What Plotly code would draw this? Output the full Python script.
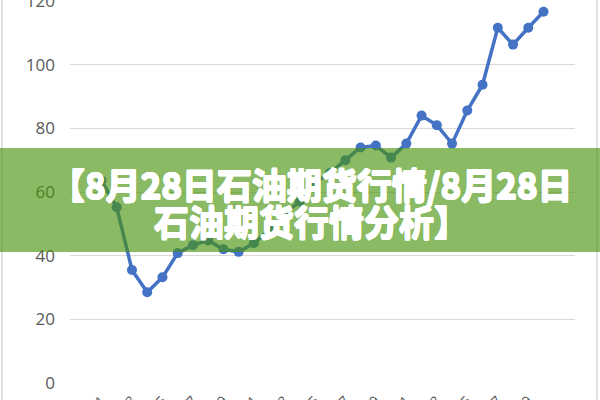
import plotly.graph_objects as go

# categories (x labels are mostly cut off in the picture)
dates = ["1/%d" % d for d in range(1, 31)]
prices = [63.6, 55.2, 35.5, 28.5, 33.2, 40.8, 43.3, 44.8, 42.0, 41.2,
          43.9, 48.0, 53.0, 57.0, 63.0, 66.0, 70.0, 74.0, 74.6, 70.8,
          75.2, 84.0, 81.0, 75.2, 85.6, 93.7, 111.6, 106.3, 111.6, 116.6]
y_ticks = [0, 20, 40, 60, 80, 100, 120]

title_line1 = "【8月28日石油期货行情/8月28日"
title_line2 = "石油期货行情分析】"

fig = go.Figure()
fig.add_trace(go.Scatter(
    x=dates, y=prices, mode="lines+markers",
    line=dict(color="#4472C4", width=3.5),
    marker=dict(color="#4472C4", size=10),
    cliponaxis=False,
))

# plot area spans px 70..575 horizontally, 1..383 vertically
def px_x(p):
    return (p - 70) / 505.0

def px_y(p):
    return (383 - p) / 382.0

# light grey frame of the original image
for xp in (2, 597):
    fig.add_shape(type="line", xref="paper", yref="paper",
                  x0=px_x(xp), x1=px_x(xp), y0=px_y(-5), y1=px_y(405),
                  line=dict(color="#d4d4d4", width=1.5), layer="below")

# green banner over the chart
fig.add_shape(type="rect", xref="paper", yref="paper",
              x0=px_x(-2), x1=px_x(602), y0=px_y(252), y1=px_y(148),
              fillcolor="rgba(70,147,10,0.63)", line_width=0, layer="above")

# the CJK font has no real bold here, so thicken it with a text shadow
d = 0.6
thick = ", ".join("%gpx %gpx 0 white" % (a * d, b * d)
                  for a in (-1, 0, 1) for b in (-1, 0, 1) if a or b)
for txt, yp in ((title_line1, 183), (title_line2, 220)):
    fig.add_annotation(text="<b>" + txt + "</b>", xref="paper", yref="paper",
                       x=px_x(311), y=px_y(yp), showarrow=False,
                       xanchor="center", yanchor="middle",
                       font=dict(family="Noto Sans CJK SC", size=35,
                                 color="white", weight=700, shadow=thick))

fig.update_xaxes(showgrid=False, showline=False, zeroline=False,
                 tickangle=-45, ticks="", automargin=False,
                 ticklabelstandoff=6,
                 tickfont=dict(family="Open Sans", size=14, color="#595959"))
fig.update_yaxes(range=[0, 120], tickvals=y_ticks, showgrid=True,
                 gridcolor="#d9d9d9", gridwidth=1.2, zeroline=False,
                 showline=False, ticklabelstandoff=14, automargin=False,
                 ticklabeloverflow="allow",
                 tickfont=dict(family="Open Sans", size=17, color="#595959"))
fig.update_layout(width=600, height=400, showlegend=False,
                  margin=dict(l=70, r=25, t=1, b=17),
                  plot_bgcolor="white", paper_bgcolor="white")

# drop the browser's default page margin so the figure sits at 0,0
fig.write_html("out.html", config={"displayModeBar": False},
               post_script="document.body.style.margin='0';"
                           "document.body.style.overflow='hidden';")
